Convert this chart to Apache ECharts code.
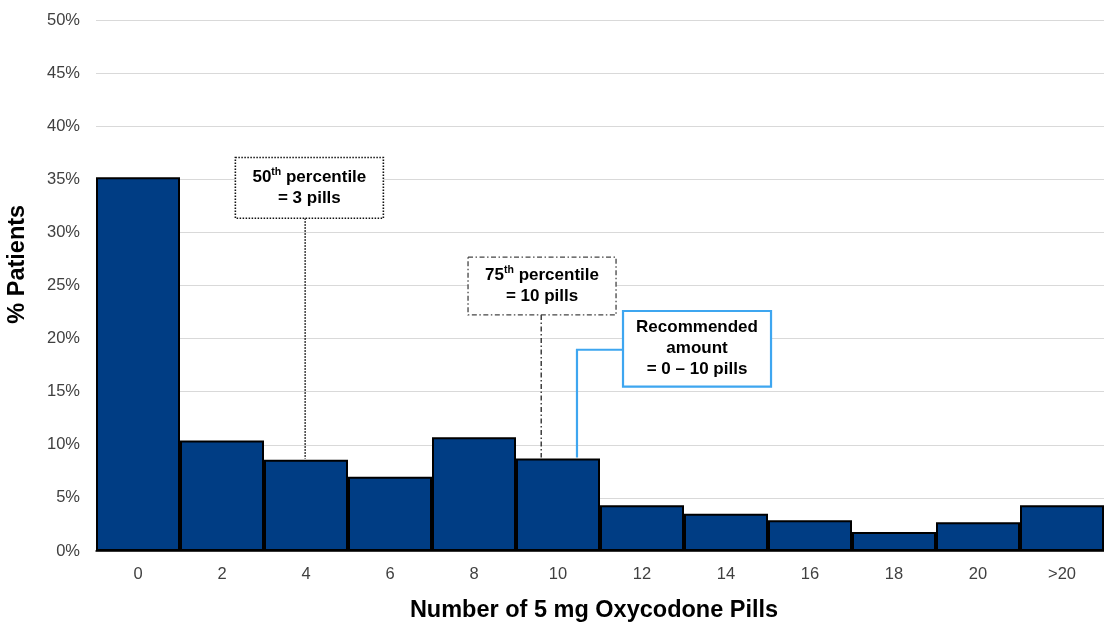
<!DOCTYPE html>
<html>
<head>
<meta charset="utf-8">
<script src="https://cdn.jsdelivr.net/npm/echarts@6/dist/echarts.min.js"></script>
<style>html,body{margin:0;padding:0;background:#fff}#c{width:1104px;height:628px}</style>
</head>
<body>
<div id="c"></div>
<script>
// ---- data ----
const categories = ['0','2','4','6','8','10','12','14','16','18','20','>20'];
const patientsPct = [35.2, 10.4, 8.6, 7.0, 10.7, 8.7, 4.3, 3.5, 2.9, 1.8, 2.7, 4.3];
const yMin = 0, yMax = 50, yStep = 5;
const xTitle = 'Number of 5 mg Oxycodone Pills';
const yTitle = '% Patients';

// ---- annotations (positions in category-index / value units) ----
const notes = [
  {rich: '{b|50}{s|th}{b| percentile}\n{b|= 3 pills}', cx: 2.04, top: 37.05, bottom: 31.33,
   stroke: '#111', dash: [1.5, 1.5], width: 1.6, lineColor: '#111', lineDash: [1.5, 1.5],
   leader: [{x: 1.99, y: 'box'}, {x: 1.99, y: 'bar', bar: 2}]},
  {rich: '{b|75}{s|th}{b| percentile}\n{b|= 10 pills}', cx: 4.81, top: 27.67, bottom: 22.23,
   stroke: '#444', dash: [5, 2.5, 1.5, 2.5], width: 1.3, lineColor: '#222', lineDash: [5, 2.5, 1.5, 2.5],
   leader: [{x: 4.80, y: 'box'}, {x: 4.80, y: 'bar', bar: 5}]},
  {rich: '{b|Recommended}\n{b|amount}\n{b|= 0 \u2013 10 pills}', cx: 6.655, top: 22.6, bottom: 15.48,
   stroke: '#3ea6f0', dash: null, width: 2.2, lineColor: '#3ea6f0', lineDash: null,
   leader: [{x: 'boxLeft', y: 18.95}, {x: 5.226, y: 18.95}, {x: 5.226, y: 'bar', bar: 5}]}
];
const boxWidthBands = 1.762;

const chart = echarts.init(document.getElementById('c'));
chart.setOption({
  animation: false,
  grid: {left: 96, right: 0, top: 20, bottom: 74, containLabel: false},
  xAxis: {
    type: 'category', data: categories,
    axisLine: {lineStyle: {color: '#000', width: 1.5}},
    axisTick: {show: false},
    axisLabel: {color: '#404040', fontSize: 16.5, fontFamily: 'Liberation Sans', margin: 15},
    name: xTitle, nameLocation: 'middle', nameGap: 48,
    nameTextStyle: {color: '#000', fontSize: 23.5, fontWeight: 'bold', fontFamily: 'Liberation Sans', padding: [0, 12, 0, 0]}
  },
  yAxis: {
    type: 'value', min: yMin, max: yMax, interval: yStep,
    axisLine: {show: false}, axisTick: {show: false},
    axisLabel: {color: '#404040', fontSize: 16.5, fontFamily: 'Liberation Sans', margin: 16,
      formatter: v => v + '%'},
    splitLine: {lineStyle: {color: '#d9d9d9', width: 1}}
  },
  series: [{
    type: 'bar', data: patientsPct, barCategoryGap: 0, barGap: 0,
    itemStyle: {color: '#003d84', borderColor: '#000', borderWidth: 2}
  }]
});

function xPix(idx) {
  const p0 = chart.convertToPixel({xAxisIndex: 0}, 0);
  const p1 = chart.convertToPixel({xAxisIndex: 0}, 1);
  return p0 + (p1 - p0) * idx;
}
function yPix(v) { return chart.convertToPixel({yAxisIndex: 0}, v); }
const band = xPix(1) - xPix(0);

const graphics = [];
// y-axis title (rotated), placed where the reference has it
graphics.push({type: 'text', x: 18, y: yPix(27.0), rotation: Math.PI / 2,
  style: {text: yTitle, align: 'center', verticalAlign: 'middle', fill: '#000',
    font: 'bold 23.5px "Liberation Sans"'}});

notes.forEach(n => {
  const cxp = xPix(n.cx);
  const w = band * boxWidthBands;
  const t = yPix(n.top), b = yPix(n.bottom);
  const left = cxp - w / 2;
  const pts = n.leader.map(p => {
    let x = p.x === 'boxLeft' ? left : xPix(p.x);
    let y = p.y === 'box' ? b : (p.y === 'bar' ? yPix(patientsPct[p.bar]) - 1 : yPix(p.y));
    return [x, y];
  });
  graphics.push({type: 'polyline', z: 10, shape: {points: pts},
    style: {stroke: n.lineColor, lineWidth: n.width, lineDash: n.lineDash, fill: null}});
  graphics.push({type: 'rect', z: 11, shape: {x: left, y: t, width: w, height: b - t},
    style: {fill: '#fff', stroke: n.stroke, lineWidth: n.width, lineDash: n.dash}});
  graphics.push({type: 'text', z: 12, x: cxp, y: (t + b) / 2,
    style: {text: n.rich, align: 'center', verticalAlign: 'middle',
      rich: {
        b: {fontSize: 17, fontWeight: 'bold', fontFamily: 'Liberation Sans', color: '#111', lineHeight: 21},
        s: {fontSize: 10.5, fontWeight: 'bold', fontFamily: 'Liberation Sans', color: '#111', lineHeight: 21, verticalAlign: 'top', padding: [0, 0, 6, 0]}
      }}});
});
chart.setOption({graphic: graphics});
</script>
</body>
</html>
